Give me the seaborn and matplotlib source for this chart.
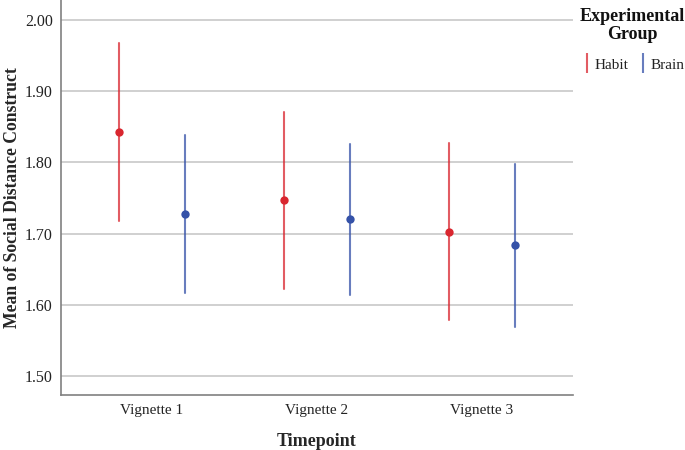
import matplotlib
matplotlib.use("Agg")
import matplotlib.pyplot as plt
import seaborn as sns
import pandas as pd
import numpy as np
from matplotlib.lines import Line2D
from matplotlib.ticker import FormatStrFormatter

timepoints = ["Vignette 1", "Vignette 2", "Vignette 3"]
groups = ["Habit", "Brain"]
habit_mean = [1.843, 1.747, 1.702]
habit_low = [1.718, 1.622, 1.578]
habit_high = [1.968, 1.871, 1.827]
brain_mean = [1.728, 1.720, 1.684]
brain_low = [1.617, 1.613, 1.569]
brain_high = [1.838, 1.826, 1.798]
yticks = [1.50, 1.60, 1.70, 1.80, 1.90, 2.00]

colors = {"Habit": "#d9262f", "Brain": "#3552a8"}

rows = []
for g, m, lo, hi in [("Habit", habit_mean, habit_low, habit_high),
                     ("Brain", brain_mean, brain_low, brain_high)]:
    for t, mm, ll, hh in zip(timepoints, m, lo, hi):
        for v in (ll, mm, hh):
            rows.append({"Timepoint": t, "Group": g, "value": v})
df = pd.DataFrame(rows)

sns.set_theme(style="white")
plt.rcParams["font.family"] = ["Liberation Serif", "DejaVu Serif"]

fig = plt.figure(figsize=(6.85, 4.5), dpi=100)
ax = fig.add_axes([61/685, 1 - 395.3/450, (573-61)/685, 395.3/450])

sns.pointplot(data=df, x="Timepoint", y="value", hue="Group", order=timepoints,
              hue_order=groups, palette=colors, estimator="median",
              errorbar=lambda x: (np.min(x), np.max(x)), dodge=0.4,
              linestyles="none", markers="o", markersize=6,
              markeredgewidth=0,
              err_kws={"linewidth": 1.5, "alpha": 0.75}, ax=ax, legend=False)

ax.set_xlim(-0.552, 2.552)
ax.set_ylim(1.4724, 2.0286)
ax.set_yticks(yticks)
ax.yaxis.set_major_formatter(FormatStrFormatter("%.2f"))
ax.yaxis.grid(True, color="#c8c8c8", linewidth=1.2)
ax.set_axisbelow(True)
for s in ["top", "right"]:
    ax.spines[s].set_visible(False)
for s in ["left", "bottom"]:
    ax.spines[s].set_color("#808080")
    ax.spines[s].set_linewidth(1.2)
ax.tick_params(axis="both", length=0, labelsize=11, colors="#222222", pad=6)
ax.tick_params(axis="y", labelsize=11.5)
ax.set_xlabel("Timepoint", fontsize=13, fontweight="bold", labelpad=12)
ax.set_ylabel("Mean of Social Distance Construct", fontsize=12.7, fontweight="bold")
ax.yaxis.set_label_coords((21 - 61) / 512, 0.5)

fig.text(632/685, 1 - 8/450, "Experimental\nGroup", ha="center", va="top",
         multialignment="center", fontsize=13, fontweight="bold",
         linespacing=1.05, color="#111111")

handles = [Line2D([], [], color=colors[g], marker="|", linestyle="none",
                  markersize=15, markeredgewidth=1.5, alpha=0.75) for g in groups]
leg = fig.legend(handles, groups, loc="center", bbox_to_anchor=(634/685, 1 - 65/450),
                 ncol=2, frameon=False, borderpad=0,
                 fontsize=11, handlelength=0.5, handletextpad=0.25, columnspacing=0.7)
for t in leg.get_texts():
    t.set_color("#222222")

fig.savefig("out.png", dpi=100)
